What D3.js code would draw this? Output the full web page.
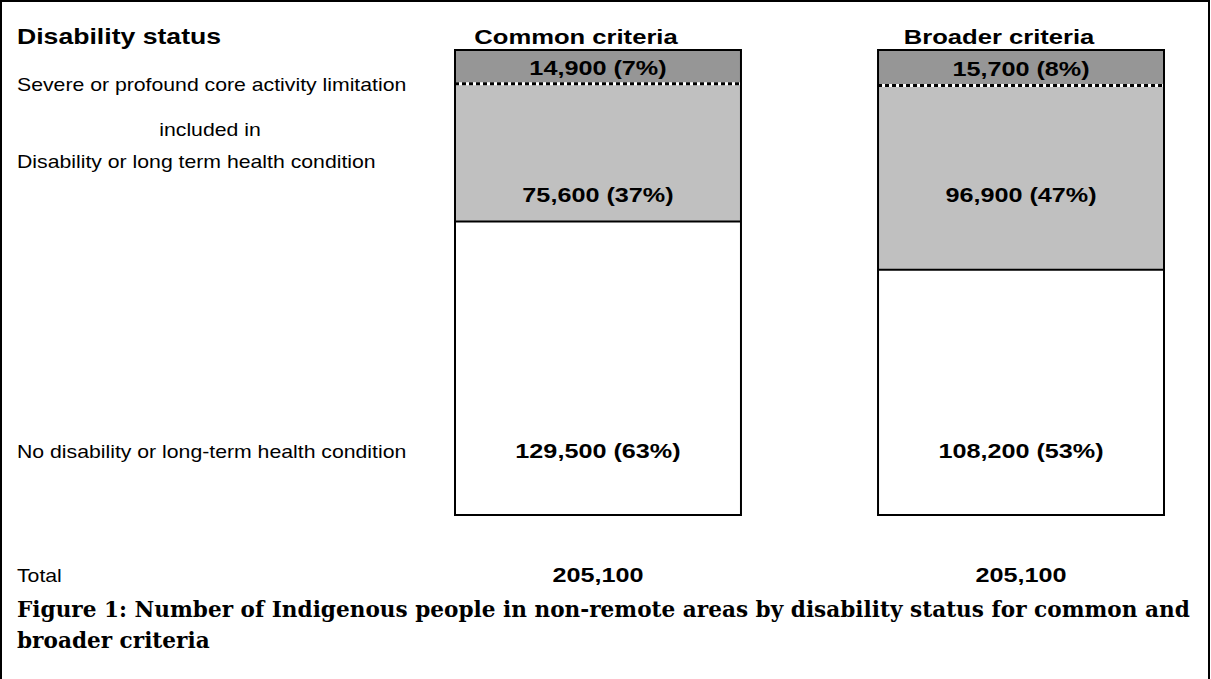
<!DOCTYPE html>
<html>
<head>
<meta charset="utf-8">
<script src="https://cdn.jsdelivr.net/npm/d3@7"></script>
<style>
    html, body { margin: 0; padding: 0; background: #fff; }
    svg { display: block; }
</style>
</head>
<body>
<svg width="1211" height="679"></svg>
<script>
// data *************************************************************
var criteria = ['Common criteria', 'Broader criteria'];
var severe = [14900, 15700];
var disability = [75600, 96900];
var noDisability = [129500, 108200];
var totals = [205100, 205100];

var rowLabels = [
    'Severe or profound core activity limitation',
    'included in',
    'Disability or long term health condition',
    'No disability or long-term health condition',
    'Total'
];
var headerLabel = 'Disability status';
var captionLines = [
    'Figure 1: Number of Indigenous people in non-remote areas by disability status for common and',
    'broader criteria'
];

// setup ************************************************************
var svg = d3.select('svg');
var width = 1211;
var height = 679;
var sans = 'Liberation Sans, Arial, sans-serif';
var fmt = d3.format(',');

var x = d3.scaleBand()
    .domain(criteria)
    .range([455, 1164])
    .paddingInner(0.324)
    .paddingOuter(0);

var y = d3.scaleLinear()
    .domain([0, d3.max(totals)])
    .range([515, 50]);

var pct = (v, i) => `${fmt(v)} (${Math.round(v / totals[i] * 100)}%)`;

var rows = criteria.map((c, i) => ({
    c, i,
    total: totals[i],
    severe: severe[i],
    disability: disability[i],
    none: noDisability[i]
}));

// the source figure is stretched sideways, so text gets a horizontal scale
function label(g, tx, ty, str, size, weight, anchor, sx) {
    return g.append('text')
        .attr('transform', `translate(${tx},${ty}) scale(${sx || 1.2},1)`)
        .attr('text-anchor', anchor || 'start')
        .attr('font-family', sans)
        .attr('font-size', size)
        .attr('font-weight', weight || 'normal')
        .attr('fill', '#000')
        .text(str);
}

// frame ************************************************************
svg.append('path')
    .attr('d', `M1,${height} V1 H${width - 2} V${height}`)
    .attr('fill', 'none')
    .attr('stroke', '#000')
    .attr('stroke-width', 2);

// bars *************************************************************
var bars = svg.selectAll('g.bar')
    .data(rows)
    .enter().append('g')
    .attr('class', 'bar');

bars.append('rect')
    .attr('x', d => x(d.c))
    .attr('width', x.bandwidth())
    .attr('y', d => y(d.total))
    .attr('height', d => y(0) - y(d.total))
    .attr('fill', '#fff');

bars.append('rect')
    .attr('x', d => x(d.c))
    .attr('width', x.bandwidth())
    .attr('y', d => y(d.none + d.disability))
    .attr('height', d => y(d.none) - y(d.none + d.disability))
    .attr('fill', '#c0c0c0');

bars.append('rect')
    .attr('x', d => x(d.c))
    .attr('width', x.bandwidth())
    .attr('y', d => y(d.total))
    .attr('height', d => y(d.total - d.severe) - y(d.total))
    .attr('fill', '#969696');

// dashed divider: black dashes on white
bars.append('line')
    .attr('x1', d => x(d.c))
    .attr('x2', d => x(d.c) + x.bandwidth())
    .attr('y1', d => y(d.total - d.severe))
    .attr('y2', d => y(d.total - d.severe))
    .attr('stroke', '#fff')
    .attr('stroke-width', 3);

bars.append('line')
    .attr('x1', d => x(d.c))
    .attr('x2', d => x(d.c) + x.bandwidth())
    .attr('y1', d => y(d.total - d.severe))
    .attr('y2', d => y(d.total - d.severe))
    .attr('stroke', '#000')
    .attr('stroke-width', 3)
    .attr('stroke-dasharray', '4,3');

bars.append('line')
    .attr('x1', d => x(d.c))
    .attr('x2', d => x(d.c) + x.bandwidth())
    .attr('y1', d => y(d.none))
    .attr('y2', d => y(d.none))
    .attr('stroke', '#000')
    .attr('stroke-width', 2);

bars.append('rect')
    .attr('x', d => x(d.c))
    .attr('width', x.bandwidth())
    .attr('y', d => y(d.total))
    .attr('height', d => y(0) - y(d.total))
    .attr('fill', 'none')
    .attr('stroke', '#000')
    .attr('stroke-width', 2);

// value labels *****************************************************
bars.each(function (d) {
    var g = d3.select(this);
    var cx = x(d.c) + x.bandwidth() / 2;
    var sevMid = (y(d.total) + y(d.total - d.severe)) / 2;
    label(g, cx, sevMid + 8, pct(d.severe, d.i), 21, 'bold', 'middle');
    label(g, cx, 202, pct(d.disability, d.i), 21, 'bold', 'middle');
    label(g, cx, 458, pct(d.none, d.i), 21, 'bold', 'middle');
    label(g, cx, 582, fmt(d.total), 21, 'bold', 'middle');
    label(g, cx - 22, 44, d.c, 21, 'bold', 'middle', 1.22);
});

// row labels *******************************************************
label(svg, 17, 44, headerLabel, 22, 'bold', 'start', 1.21);
label(svg, 17, 91, rowLabels[0], 18, 'normal', 'start', 1.18);
label(svg, 210, 136, rowLabels[1], 18, 'normal', 'middle', 1.18);
label(svg, 17, 168, rowLabels[2], 18, 'normal', 'start', 1.18);
label(svg, 17, 458, rowLabels[3], 18, 'normal', 'start', 1.18);
label(svg, 17, 582, rowLabels[4], 18, 'normal', 'start', 1.18);

// caption **********************************************************
var caption = svg.append('g');
var capText = captionLines.map(line => caption.append('text')
    .attr('font-family', 'DejaVu Serif, serif')
    .attr('font-size', 21.5)
    .attr('font-weight', 'bold')
    .attr('fill', '#000')
    .text(line));
var capScale = 1173 / capText[0].node().getComputedTextLength();
capText.forEach((t, i) => t.attr('transform', `translate(17,${617 + i * 31}) scale(${capScale},1)`));
</script>
</body>
</html>
